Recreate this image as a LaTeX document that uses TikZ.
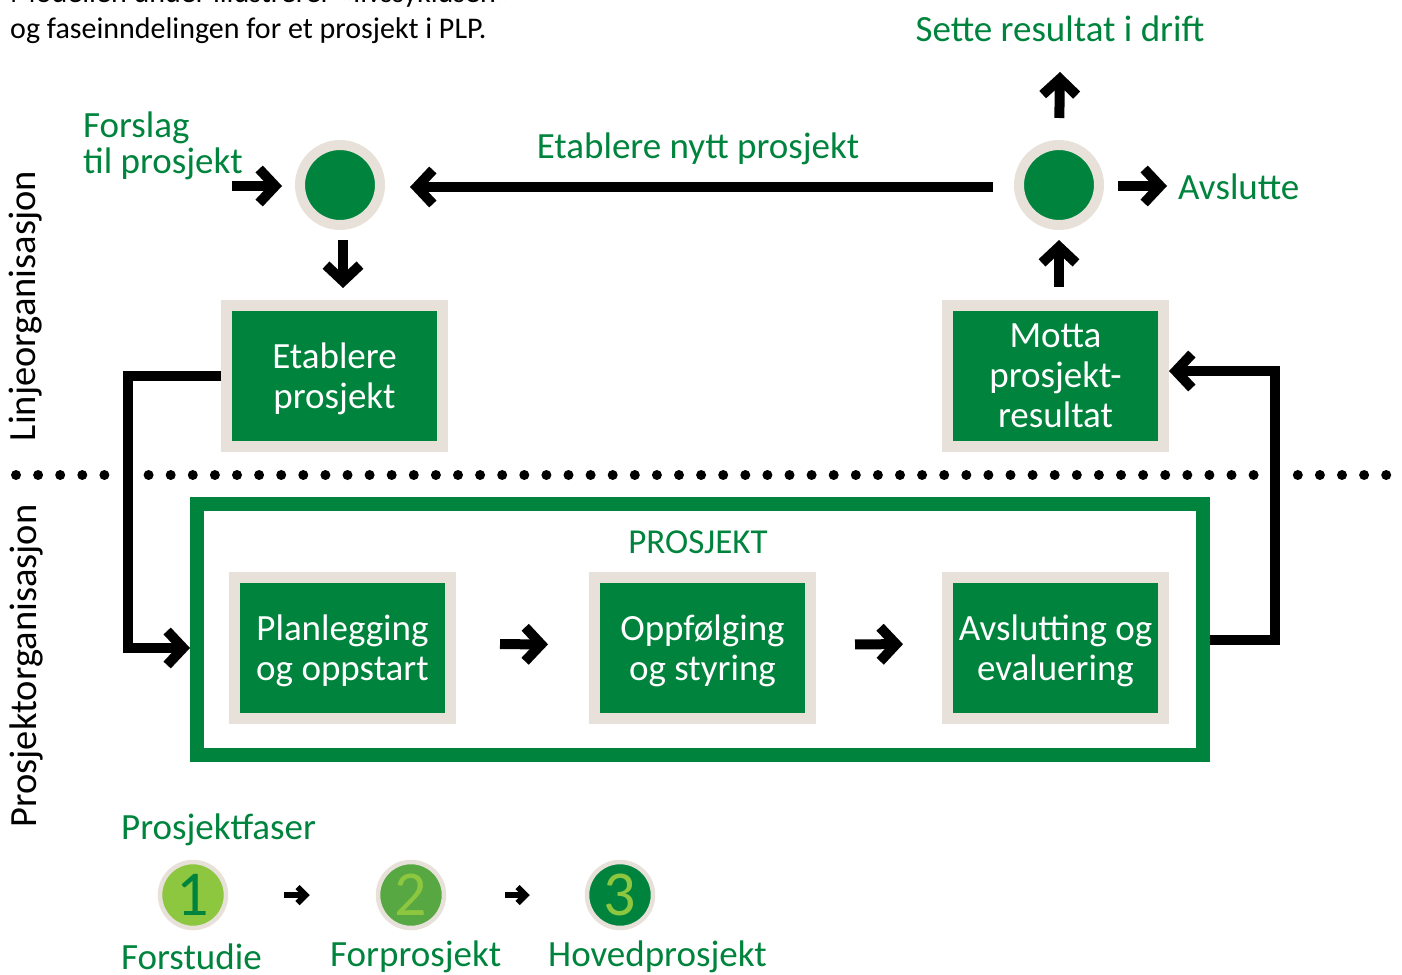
\documentclass[tikz,border=0pt]{standalone}
\usepackage{fontspec}
\setmainfont{Carlito}
\usetikzlibrary{arrows.meta}
\definecolor{pgreen}{RGB}{0,132,61}
\definecolor{pbeige}{RGB}{231,225,218}
\definecolor{lgreen}{RGB}{141,198,63}
\definecolor{mgreen}{RGB}{87,168,66}
\begin{document}
\begin{tikzpicture}[x=1pt,y=-1pt,
  arr/.style={line width=10pt,-{Straight Barb[length=16pt,width=34pt]}},
  sarr/.style={line width=6pt,-{Straight Barb[length=8pt,width=16pt]}},
  box/.style={draw=pbeige,line width=11pt,fill=pgreen,text=white,minimum width=216pt,minimum height=141pt,align=center,inner sep=0pt,text depth=0pt,font=\fontsize{37}{40}\selectfont},
  circ/.style={circle,draw=pbeige,line width=10pt,fill=pgreen,minimum size=80pt,inner sep=0pt},
  lbl/.style={text=pgreen,inner sep=0pt,font=\fontsize{37}{36}\selectfont},
  blk/.style={text=black,inner sep=0pt,font=\fontsize{30}{33}\selectfont},
  phase/.style={circle,draw=pbeige,line width=4.5pt,minimum size=66pt,inner sep=0pt,font=\fontsize{64}{64}\selectfont}]
\useasboundingbox (0,0) rectangle (1402,974);
\clip (0,0) rectangle (1402,974);

% top text
\node[blk,anchor=base west] (t1) at (10,3) {Modellen under illustrerer «livssyklusen»};
\node[blk,anchor=base west] (t2) at (10,38) {og faseinndelingen for et prosjekt i PLP.};

% side labels
\node[rotate=90,inner sep=0pt,font=\fontsize{38.5}{38}\selectfont] (lin) at (26,306) {Linjeorganisasjon};
\node[rotate=90,inner sep=0pt,font=\fontsize{38.5}{38}\selectfont] (pro) at (26,666) {Prosjektorganisasjon};

% dotted separator
\foreach \i in {0,...,62} {
  \pgfmathsetmacro\xx{16+\i*22.1}
  \pgfmathtruncatemacro\showdot{(abs(\xx-128)<12 || abs(\xx-1275)<12) ? 0 : 1}
  \ifnum\showdot=1 \fill (\xx,475) circle[radius=5pt]; \fi
}

% upper nodes
\node[circ] (c1) at (340,185) {};
\node[circ] (c2) at (1059,185) {};
\node[box] (etab) at (334.5,376) {Etablere\\prosjekt};
\node[box] (motta) at (1055.5,375.5) {Motta\\prosjekt-\\resultat};

\node[lbl,anchor=west,align=left] (forslag) at (83,146) {Forslag\\til prosjekt};
\node[lbl] (nytt) at (698,149) {Etablere nytt prosjekt};
\node[lbl] (sette) at (1060,29) {Sette resultat i drift};
\node[lbl,anchor=west] (avsl) at (1178,187) {Avslutte};

\coordinate (fs) at (232,186);
\coordinate (up) at (1060,72);
\draw[arr] (fs) -- ([xshift=-13pt,yshift=-1pt]c1.west);
\draw[arr,shorten <=21pt,shorten >=25pt] ([yshift=-2pt]c2.west) -- ([yshift=-2pt]c1.east);
\draw[arr,shorten <=10pt,shorten >=12pt] ([xshift=3pt]c1.south) -- ([xshift=3pt]c1.south |- etab.north);
\draw[arr,shorten <=13pt,shorten >=10pt] (motta.north -| c2) -- (c2.south);
\draw[arr,shorten <=22pt] (c2.north) -- (up);
\draw[arr,shorten <=14pt,shorten >=11pt] ([yshift=-1pt]c2.east) -- ([yshift=1pt]avsl.west);

% project frame
\node[draw=pgreen,line width=14pt,minimum width=1006pt,minimum height=251pt,inner sep=0pt] (proj) at (700,629.5) {};
\node[lbl,font=\fontsize{35}{35}\selectfont] (pk) at (698,542) {PROSJEKT};
\node[box] (plan) at (342.5,647.5) {Planlegging\\og oppstart};
\node[box] (opp) at (702.5,648) {Oppfølging\\og styring};
\node[box] (avs) at (1055.5,647.5) {Avslutting og\\evaluering};
\draw[arr,shorten <=44pt,shorten >=41pt] ([yshift=3.5pt]plan.east) -- ([yshift=3.5pt]opp.west);
\draw[arr,shorten <=39pt,shorten >=39pt] ([yshift=3.5pt]opp.east) -- ([yshift=3.5pt]avs.west);

% connectors
\coordinate (lj) at (128,648);
\draw[arr] (etab.west) -| (lj) -- (lj -| proj.west);
\coordinate (rj) at (1275,640);
\coordinate (rt) at (1275,371);
\draw[arr] (proj.east |- rj) -- (rj) -- (rt) -- (rt -| motta.east);

% phases
\node[lbl,anchor=west] (pf) at (121,830) {Prosjektfaser};
\node[phase,fill=lgreen,text=pgreen] (p1) at (193,895) {1};
\node[phase,fill=mgreen,text=lgreen] (p2) at (411,895) {2};
\node[phase,fill=pgreen,text=lgreen] (p3) at (620,895) {3};
\draw[sarr,shorten <=56pt,shorten >=66pt] (p1.east) -- (p2.west);
\draw[sarr,shorten <=59pt,shorten >=55pt] (p2.east) -- (p3.west);
\node[lbl,anchor=west] (l1) at (121,957) {Forstudie};
\node[lbl,anchor=west] (l2) at (330,957) {Forprosjekt};
\node[lbl,anchor=west] (l3) at (548,957) {Hovedprosjekt};
\end{tikzpicture}
\end{document}
